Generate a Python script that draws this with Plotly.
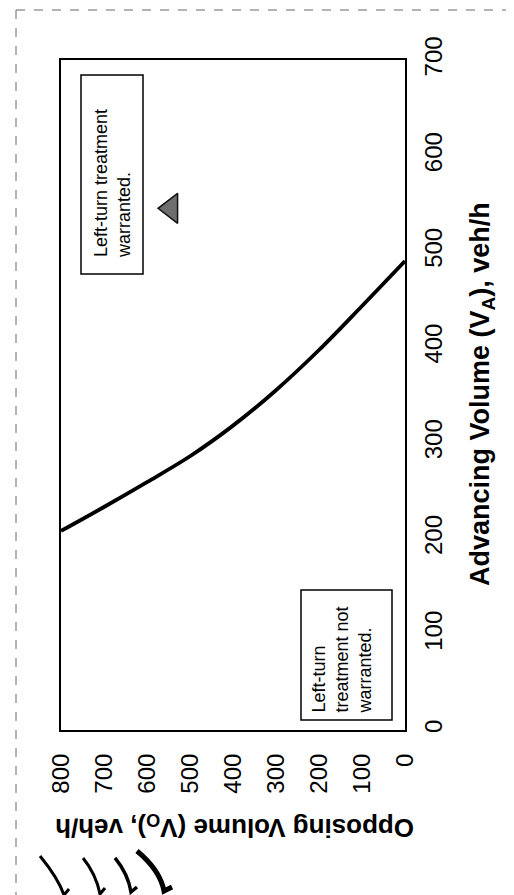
import plotly.graph_objects as go

# Data
opposing_vol = [800, 700, 600, 500, 400, 300, 200, 100, 0]          # V_O, veh/h
advancing_vol = [208, 233, 259, 286, 318, 355, 397, 443, 490]       # V_A, veh/h on the warrant curve
point_vo = [544]
point_va = [545]
opp_ticks = [0, 100, 200, 300, 400, 500, 600, 700, 800]
adv_ticks = [0, 100, 200, 300, 400, 500, 600, 700]

FONT = "Liberation Sans, Arial, sans-serif"

fig = go.Figure()
fig.add_trace(go.Scatter(
    x=opposing_vol, y=advancing_vol, mode="lines",
    line=dict(color="black", width=3.8, shape="spline", smoothing=1.0),
    hoverinfo="skip", showlegend=False))
fig.add_trace(go.Scatter(
    x=point_vo, y=point_va, mode="markers",
    marker=dict(symbol="triangle-left", size=26, color="#6e6e6e",
                line=dict(color="#111", width=1.5)),
    showlegend=False))

L, R, T, B = 53, 117, 52, 173
W, H = 514, 895
pw, ph = W - L - R, H - T - B

def px(xp):
    return (xp - L) / pw

def py(yp):
    return 1 - (yp - T) / ph

def path(cmds):
    out = []
    for c in cmds:
        if isinstance(c, str):
            out.append(c)
        else:
            out.append(f"{px(c[0]):.4f},{py(c[1]):.4f}")
    return " ".join(out)

shapes = [
    # text boxes
    dict(type="rect", xref="paper", yref="paper", x0=px(73), x1=px(135), y0=py(266), y1=py(67),
         line=dict(color="black", width=1.5), fillcolor="white", layer="below"),
    dict(type="rect", xref="paper", yref="paper", x0=px(293), x1=px(384), y0=py(712), y1=py(582),
         line=dict(color="black", width=1.5), fillcolor="white", layer="below"),
    # scanned page border
    dict(type="line", xref="paper", yref="paper", x0=px(8), x1=px(8), y0=py(893), y1=py(2),
         line=dict(color="#666", width=1, dash="dash")),
    dict(type="line", xref="paper", yref="paper", x0=px(8), x1=px(514), y0=py(2), y1=py(2),
         line=dict(color="#666", width=1, dash="dash")),
]
# scan marks at bottom left
for (a, b, c, d, w) in [((32, 848), (50, 870), (56, 887), (61, 881), 3),
                        ((75, 850), (88, 866), (92, 886), (97, 880), 3),
                        ((107, 850), (120, 866), (123, 884), (129, 879), 3.5),
                        ((129, 843), (152, 862), (156, 883), (164, 879), 5)]:
    shapes.append(dict(type="path", xref="paper", yref="paper",
                       path=path(["M", a, "Q", b, c, "L", d]),
                       line=dict(color="black", width=w)))

annotations = [
    dict(text="Left-turn treatment<br>warranted.", xref="paper", yref="paper",
         x=px(104), y=py(176), xanchor="center", yanchor="middle", textangle=-90,
         align="left", showarrow=False, font=dict(family=FONT, size=18, color="black")),
    dict(text="Left-turn<br>treatment not<br>warranted.", xref="paper", yref="paper",
         x=px(333.5), y=py(652), xanchor="center", yanchor="middle", textangle=-90,
         align="left", showarrow=False, font=dict(family=FONT, size=18, color="black")),
    dict(text="<b>Advancing Volume (V<sub>A</sub>), veh/h</b>", xref="paper", yref="paper",
         x=px(474), y=py(386), xanchor="center", yanchor="middle", textangle=-90,
         showarrow=False, font=dict(family=FONT, size=27, color="black")),
    dict(text="<b>Opposing Volume (V<sub>O</sub>), veh/h</b>", xref="paper", yref="paper",
         x=px(227), y=py(819), xanchor="center", yanchor="middle", textangle=180,
         showarrow=False, font=dict(family=FONT, size=26, color="black")),
]

fig.update_layout(
    width=W, height=H,
    margin=dict(l=L, r=R, t=T, b=B, pad=0),
    paper_bgcolor="white", plot_bgcolor="white",
    font=dict(family=FONT, color="black"),
    shapes=shapes, annotations=annotations,
    xaxis=dict(range=[800, 0], tickvals=opp_ticks, ticktext=[str(v) for v in opp_ticks],
               tickangle=-90, tickfont=dict(size=24), ticks="", ticklabelstandoff=12,
               showgrid=False, zeroline=False, showline=True, linecolor="black",
               linewidth=2, mirror=True, fixedrange=True),
    yaxis=dict(range=[0, 700], side="right", tickvals=adv_ticks,
               ticktext=[str(v) for v in adv_ticks],
               tickangle=-90, tickfont=dict(size=24), ticks="", ticklabelstandoff=6,
               showgrid=False, zeroline=False, showline=True, linecolor="black",
               linewidth=2, mirror=True, fixedrange=True),
)

fig.write_html("out.html")
